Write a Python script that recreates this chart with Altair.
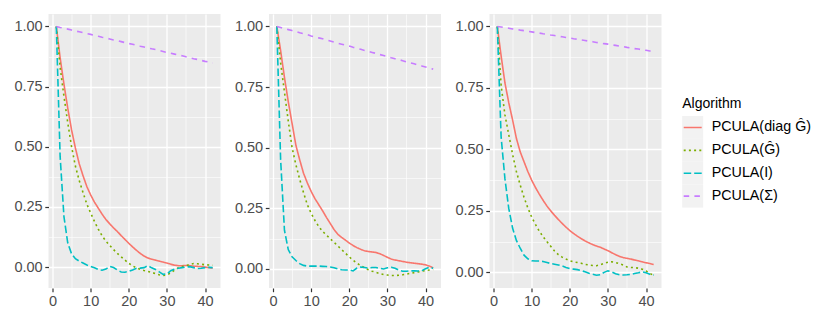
import altair as alt
import pandas as pd

ALGORITHMS = ["PCULA(diag Ĝ)", "PCULA(Ĝ)", "PCULA(I)", "PCULA(Σ)"]
COLORS = ["#F8766D", "#7CAE00", "#00BFC4", "#C77CFF"]
DASHES = [[1, 0], [2, 3.2], [7.5, 3], [5.5, 5.2]]
LEGEND_TITLE = "Algorithm"
KEY_SLOTS = [0, 1, 2, 3]

LAGS = list(range(1, 43))
X_TICKS = [0, 5, 10, 15, 20, 25, 30, 35, 40]
Y_TICKS = [0, 0.125, 0.25, 0.375, 0.5, 0.625, 0.75, 0.875, 1.0]

# ---- panel 1 ----
P1_DIAG = [1.000, 0.870, 0.760, 0.660, 0.570, 0.495, 0.430, 0.380, 0.335, 0.300, 0.270, 0.245, 0.220, 0.198,
           0.180, 0.163, 0.148, 0.131, 0.115, 0.099, 0.084, 0.070, 0.057, 0.046, 0.038, 0.033, 0.029, 0.025,
           0.021, 0.017, 0.012, 0.008, 0.006, 0.006, 0.007, 0.006, 0.004, 0.003, 0.002, 0.000, -0.002, -0.004]
P1_G = [1.000, 0.830, 0.710, 0.600, 0.500, 0.420, 0.360, 0.310, 0.262, 0.225, 0.190, 0.158, 0.130, 0.108,
        0.090, 0.073, 0.057, 0.043, 0.029, 0.016, 0.005, -0.003, -0.009, -0.014, -0.018, -0.022, -0.027, -0.032,
        -0.035, -0.032, -0.024, -0.012, -0.003, 0.002, 0.006, 0.011, 0.015, 0.014, 0.012, 0.010, 0.009, 0.008]
P1_I = [1.000, 0.460, 0.210, 0.100, 0.055, 0.035, 0.025, 0.017, 0.009, 0.003, -0.003, -0.010, -0.013, -0.008,
        0.003, -0.002, -0.012, -0.020, -0.021, -0.018, -0.012, -0.005, -0.004, -0.002, 0.006, -0.003, -0.010, -0.020,
        -0.030, -0.028, -0.015, -0.008, -0.005, -0.002, 0.000, 0.002, -0.002, -0.006, -0.005, -0.002, -0.001, -0.002]
P1_S = [1.000, 0.996, 0.993, 0.989, 0.985, 0.981, 0.978, 0.974, 0.970, 0.967, 0.963, 0.959, 0.955, 0.952,
        0.948, 0.944, 0.941, 0.937, 0.933, 0.929, 0.926, 0.922, 0.918, 0.915, 0.911, 0.907, 0.904, 0.900,
        0.896, 0.892, 0.889, 0.885, 0.881, 0.878, 0.874, 0.870, 0.866, 0.863, 0.859, 0.855, 0.852, 0.848]

# ---- panel 2 ----
P2_DIAG = [1.000, 0.900, 0.790, 0.690, 0.600, 0.510, 0.450, 0.395, 0.355, 0.320, 0.290, 0.265, 0.240, 0.213,
           0.188, 0.163, 0.143, 0.130, 0.119, 0.107, 0.097, 0.088, 0.081, 0.075, 0.072, 0.070, 0.068, 0.063,
           0.056, 0.048, 0.041, 0.037, 0.034, 0.031, 0.028, 0.026, 0.024, 0.022, 0.020, 0.017, 0.012, 0.005]
P2_G = [1.000, 0.850, 0.730, 0.610, 0.500, 0.430, 0.370, 0.315, 0.265, 0.230, 0.200, 0.175, 0.155, 0.140,
        0.125, 0.110, 0.095, 0.080, 0.065, 0.050, 0.036, 0.024, 0.014, 0.005, -0.003, -0.009, -0.014, -0.019,
        -0.023, -0.025, -0.027, -0.027, -0.026, -0.024, -0.021, -0.018, -0.015, -0.012, -0.009, -0.006, -0.004, -0.002]
P2_I = [1.000, 0.450, 0.160, 0.080, 0.050, 0.035, 0.022, 0.015, 0.012, 0.012, 0.012, 0.012, 0.011, 0.010,
        0.008, 0.005, 0.000, -0.003, -0.004, -0.004, -0.008, 0.004, 0.008, 0.006, 0.004, 0.006, 0.006, 0.003,
        0.000, 0.005, 0.007, 0.003, -0.005, -0.009, -0.009, -0.008, -0.007, -0.008, -0.007, 0.001, 0.007, 0.003]
P2_S = [1.000, 0.996, 0.991, 0.987, 0.983, 0.979, 0.974, 0.970, 0.966, 0.961, 0.957, 0.953, 0.949, 0.944,
        0.940, 0.936, 0.931, 0.927, 0.923, 0.919, 0.914, 0.910, 0.906, 0.901, 0.897, 0.893, 0.889, 0.884,
        0.880, 0.876, 0.871, 0.867, 0.863, 0.859, 0.854, 0.850, 0.846, 0.841, 0.837, 0.833, 0.828, 0.824]

# ---- panel 3 ----
P3_DIAG = [1.000, 0.880, 0.770, 0.690, 0.620, 0.545, 0.490, 0.450, 0.410, 0.375, 0.345, 0.318, 0.293, 0.270,
           0.250, 0.232, 0.215, 0.199, 0.184, 0.170, 0.158, 0.147, 0.137, 0.128, 0.120, 0.113, 0.107, 0.102,
           0.095, 0.088, 0.080, 0.072, 0.065, 0.060, 0.057, 0.054, 0.050, 0.047, 0.043, 0.039, 0.036, 0.032]
P3_G = [1.000, 0.760, 0.640, 0.560, 0.480, 0.410, 0.355, 0.305, 0.262, 0.225, 0.195, 0.168, 0.145, 0.125,
        0.106, 0.087, 0.072, 0.062, 0.054, 0.047, 0.043, 0.040, 0.037, 0.032, 0.030, 0.028, 0.027, 0.031,
        0.037, 0.041, 0.043, 0.040, 0.035, 0.030, 0.022, 0.020, 0.019, 0.017, 0.013, 0.006, -0.004, -0.013]
P3_I = [1.000, 0.550, 0.380, 0.260, 0.180, 0.130, 0.098, 0.070, 0.055, 0.047, 0.046, 0.046, 0.044, 0.040,
        0.036, 0.033, 0.030, 0.026, 0.020, 0.015, 0.013, 0.011, 0.007, 0.002, -0.004, -0.008, -0.012, -0.010,
        0.000, 0.006, 0.002, -0.006, -0.010, -0.011, -0.010, -0.008, -0.005, -0.002, 0.002, -0.002, -0.008, -0.011]
P3_S = [1.000, 0.998, 0.995, 0.993, 0.990, 0.988, 0.985, 0.983, 0.980, 0.978, 0.975, 0.973, 0.970, 0.968,
        0.965, 0.963, 0.960, 0.958, 0.955, 0.953, 0.950, 0.948, 0.945, 0.943, 0.940, 0.938, 0.935, 0.933,
        0.930, 0.928, 0.925, 0.923, 0.920, 0.918, 0.915, 0.913, 0.910, 0.908, 0.905, 0.903, 0.900, 0.898]

PANELS = [
    [P1_DIAG, P1_G, P1_I, P1_S],
    [P2_DIAG, P2_G, P2_I, P2_S],
    [P3_DIAG, P3_G, P3_I, P3_S],
]

FONT = "Liberation Sans"
PANEL_W, PANEL_H = 172, 274
AXIS_FS = 14.5
LEG_FS = 14.3

color_scale = alt.Scale(domain=ALGORITHMS, range=COLORS)
dash_scale = alt.Scale(domain=ALGORITHMS, range=DASHES)


def make_panel(series):
    rows = []
    for alg, vals in zip(ALGORITHMS, series):
        for lag, v in zip(LAGS, vals):
            rows.append({"lag": lag, "value": v, "alg": alg})
    df = pd.DataFrame(rows)
    lo, hi = df["value"].min(), df["value"].max()
    span = hi - lo
    ydom = [lo - 0.05 * span, hi + 0.05 * span]
    xlo, xhi = min(LAGS), max(LAGS)
    xspan = xhi - xlo
    xdom = [xlo - 0.05 * xspan, xhi + 0.05 * xspan]

    x_axis = alt.Axis(
        values=X_TICKS, title=None, format="d",
        labelExpr="datum.value % 10 === 0 ? datum.label : ''",
        domain=False, grid=True, gridColor="white",
        gridWidth={"condition": {"test": "datum.value % 10 === 0", "value": 1.3}, "value": 0.6},
        tickColor="#333333", tickWidth=1.2, tickSize=3.7,
        tickOpacity={"condition": {"test": "datum.value % 10 === 0", "value": 1}, "value": 0},
        labelColor="#4D4D4D", labelFontSize=AXIS_FS, labelFont=FONT, labelPadding=2.3,
    )
    y_axis = alt.Axis(
        values=Y_TICKS, title=None, format=".2f",
        labelExpr="round(datum.value * 8) % 2 === 0 ? datum.label : ''",
        domain=False, grid=True, gridColor="white",
        gridWidth={"condition": {"test": "round(datum.value * 8) % 2 === 0", "value": 1.3}, "value": 0.6},
        tickColor="#333333", tickWidth=1.2, tickSize=3.7,
        tickOpacity={"condition": {"test": "round(datum.value * 8) % 2 === 0", "value": 1}, "value": 0},
        labelColor="#4D4D4D", labelFontSize=AXIS_FS, labelFont=FONT, labelPadding=2.6,
    )
    return alt.Chart(df).mark_line(strokeWidth=1.6, clip=True).encode(
        x=alt.X("lag:Q", scale=alt.Scale(domain=xdom, nice=False, zero=False), axis=x_axis),
        y=alt.Y("value:Q", scale=alt.Scale(domain=ydom, nice=False, zero=False), axis=y_axis),
        color=alt.Color("alg:N", scale=color_scale, legend=None),
        strokeDash=alt.StrokeDash("alg:N", scale=dash_scale, legend=None),
        order="lag:Q",
    ).properties(width=PANEL_W, height=PANEL_H,
                 view=alt.ViewBackground(fill="#EBEBEB", strokeWidth=0))


panels = [make_panel(s) for s in PANELS]

# ---- legend drawn as its own small chart ----
leg_df = pd.DataFrame({"alg": ALGORITHMS, "slot": KEY_SLOTS})
title_df = pd.DataFrame({"t": [LEGEND_TITLE]})
slot_scale = alt.Scale(domain=[-4.954, 7.011], reverse=True, nice=False, zero=False)
leg_base = alt.Chart(leg_df).transform_calculate(lo="datum.slot - 0.5", hi="datum.slot + 0.5")
leg_bg = leg_base.mark_rect(color="#F2F2F2").encode(
    y=alt.Y("lo:Q", scale=slot_scale, axis=None), y2="hi:Q", x=alt.value(0), x2=alt.value(21))
leg_lines = leg_base.mark_rule(strokeWidth=1.6).encode(
    y=alt.Y("slot:Q", scale=slot_scale, axis=None), x=alt.value(1.5), x2=alt.value(19.5),
    color=alt.Color("alg:N", scale=color_scale, legend=None),
    strokeDash=alt.StrokeDash("alg:N", scale=dash_scale, legend=None),
)
leg_text = leg_base.mark_text(align="left", baseline="middle", fontSize=LEG_FS, font=FONT, color="black").encode(
    y=alt.Y("slot:Q", scale=slot_scale, axis=None), x=alt.value(29.5), text="alg:N")
leg_title = alt.Chart(title_df).mark_text(align="left", baseline="alphabetic", fontSize=14, font=FONT,
                                           color="black").encode(x=alt.value(0), y=alt.value(93.7), text="t:N")
legend = alt.layer(leg_bg, leg_lines, leg_text, leg_title).properties(
    width=130, height=PANEL_H, view=alt.ViewBackground(fill="transparent", strokeWidth=0))

chart = alt.hconcat(
    alt.hconcat(*panels, spacing=13.5),
    legend,
    spacing=20.7,
).properties(
    padding={"left": 5.5, "top": 6, "right": 0, "bottom": 0},
    background="white",
).configure_view(strokeWidth=0)

chart.save("out.html", embed_options={"renderer": "svg", "actions": False})
